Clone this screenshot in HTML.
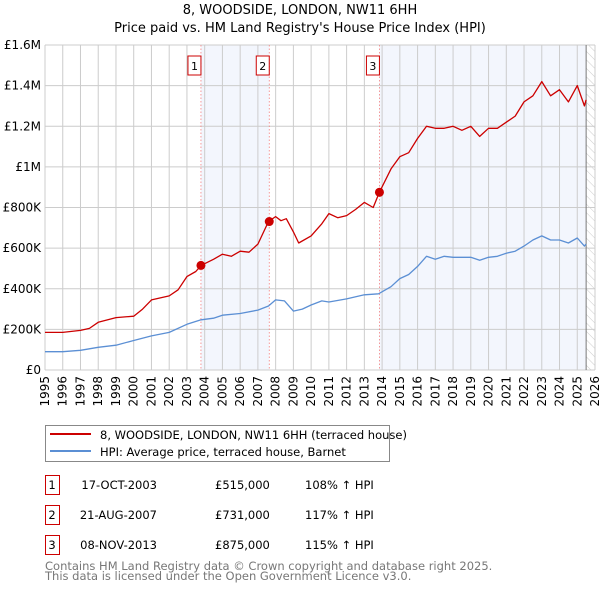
<!DOCTYPE html>
<html><head><meta charset="utf-8"><style>
body{margin:0;background:#fff;font-family:"DejaVu Sans","Liberation Sans",sans-serif}
svg text{font-family:"DejaVu Sans","Liberation Sans",sans-serif}
</style></head><body>
<svg id="c" width="600" height="590" xmlns="http://www.w3.org/2000/svg">
<defs><pattern id="hatch" width="6" height="6" patternUnits="userSpaceOnUse" patternTransform="rotate(-45)"><line x1="0" y1="0" x2="0" y2="6" stroke="#ccc" stroke-width="1"/></pattern></defs>
<text x="300" y="14" text-anchor="middle" font-size="13" fill="#000">8, WOODSIDE, LONDON, NW11 6HH</text>
<text x="300" y="32" text-anchor="middle" font-size="13" fill="#000">Price paid vs. HM Land Registry's House Price Index (HPI)</text>
<g id="plot"></g>
<g>
<rect x="45.5" y="425.5" width="344" height="36" fill="#fff" stroke="#888"/>
<line x1="50" y1="434" x2="91" y2="434" stroke="#cc0000" stroke-width="2"/>
<text x="100" y="439" font-size="11.5">8, WOODSIDE, LONDON, NW11 6HH (terraced house)</text>
<line x1="50" y1="451" x2="91" y2="451" stroke="#5b8fd4" stroke-width="2"/>
<text x="100" y="456" font-size="11.5">HPI: Average price, terraced house, Barnet</text>
</g>
<g id="table" font-size="11.5"></g>
<text x="45" y="570" font-size="11.5" fill="#777">Contains HM Land Registry data © Crown copyright and database right 2025.</text>
<text x="45" y="580" font-size="11.5" fill="#777">This data is licensed under the Open Government Licence v3.0.</text>
</svg>
<script>
const hpiYears=[1995,1996,1997,1998,1999,2000,2001,2002,2003,2003.8,2004.5,2005,2006,2007,2007.6,2008,2008.5,2009,2009.5,2010,2010.6,2011,2012,2013,2013.8,2014.5,2015,2015.5,2016,2016.5,2017,2017.5,2018,2019,2019.5,2020,2020.5,2021,2021.5,2022,2022.5,2023,2023.5,2024,2024.5,2025,2025.4,2025.5];
const hpiValues=[90e3,90e3,97e3,112e3,122e3,145e3,168e3,185e3,225e3,247e3,255e3,270e3,278e3,295e3,315e3,345e3,340e3,290e3,300e3,320e3,340e3,335e3,350e3,370e3,375e3,410e3,450e3,470e3,510e3,560e3,545e3,560e3,555e3,555e3,540e3,555e3,560e3,575e3,585e3,610e3,640e3,660e3,640e3,640e3,625e3,650e3,610e3,620e3];
const propYears=[1995,1996,1997,1997.5,1998,1999,2000,2000.5,2001,2002,2002.5,2003,2003.5,2003.8,2004.5,2005,2005.5,2006,2006.5,2007,2007.6,2008,2008.3,2008.6,2009,2009.3,2010,2010.6,2011,2011.5,2012,2012.5,2013,2013.5,2013.85,2014.5,2015,2015.5,2016,2016.5,2017,2017.5,2018,2018.5,2019,2019.5,2020,2020.5,2021,2021.5,2022,2022.5,2023,2023.5,2024,2024.5,2025,2025.4,2025.5];
const propValues=[185e3,185e3,195e3,205e3,235e3,258e3,265e3,300e3,345e3,365e3,395e3,460e3,485e3,515e3,545e3,570e3,560e3,585e3,580e3,620e3,731e3,755e3,735e3,745e3,680e3,625e3,660e3,720e3,770e3,750e3,760e3,790e3,825e3,800e3,875e3,990e3,1050e3,1070e3,1140e3,1200e3,1190e3,1190e3,1200e3,1180e3,1200e3,1150e3,1190e3,1190e3,1220e3,1250e3,1320e3,1350e3,1420e3,1350e3,1380e3,1320e3,1400e3,1300e3,1330e3];
const saleYears=[2003.79,2007.64,2013.85];
const saleValues=[515e3,731e3,875e3];
const saleLabels=["1","2","3"];
const saleDates=["17-OCT-2003","21-AUG-2007","08-NOV-2013"];
const salePrices=["£515,000","£731,000","£875,000"];
const saleHpi=["108% ↑ HPI","117% ↑ HPI","115% ↑ HPI"];
const yTicks=[0,200e3,400e3,600e3,800e3,1000e3,1200e3,1400e3,1600e3];
const yTickLabels=["£0","£200K","£400K","£600K","£800K","£1M","£1.2M","£1.4M","£1.6M"];
const xTicks=[1995,1996,1997,1998,1999,2000,2001,2002,2003,2004,2005,2006,2007,2008,2009,2010,2011,2012,2013,2014,2015,2016,2017,2018,2019,2020,2021,2022,2023,2024,2025,2026];
const dataEnd=2025.5;

const NS="http://www.w3.org/2000/svg";
const L=45,R=595,T=45,B=370;
const x=v=>L+(v-1995)/31*(R-L);
const y=v=>B-v/1.6e6*(B-T);
const plot=document.getElementById('plot');
function mk(tag,attrs,parent){const e=document.createElementNS(NS,tag);for(const k in attrs)e.setAttribute(k,attrs[k]);(parent||plot).appendChild(e);return e;}
let s=mk('rect',{x:x(saleYears[0]),y:T,width:x(saleYears[1])-x(saleYears[0]),height:B-T,fill:'#f3f6fd'});


s=mk('rect',{x:x(saleYears[2]),y:T,width:x(dataEnd)-x(saleYears[2]),height:B-T,fill:'#f3f6fd'});


s=mk('rect',{x:x(dataEnd),y:T,width:R-x(dataEnd),height:B-T,fill:'url(#hatch)'});


xTicks.forEach(t=>{const g=mk('line',{x1:x(t),x2:x(t),y1:T,y2:B,stroke:'#ccc','stroke-width':1});


const lb=mk('text',{x:0,y:0,'font-size':12,'text-anchor':'end',transform:`translate(${x(t)+4},${B+6}) rotate(-90)`});lb.textContent=t;

});
yTicks.forEach((t,i)=>{const g=mk('line',{x1:L,x2:R,y1:y(t),y2:y(t),stroke:'#ccc','stroke-width':1});


const lb=mk('text',{x:L-4,y:y(t)+4,'font-size':12,'text-anchor':'end'});lb.textContent=yTickLabels[i];

});
let el=mk('line',{x1:x(dataEnd),x2:x(dataEnd),y1:T,y2:B,stroke:'#777','stroke-width':1});


saleYears.forEach((sy,i)=>{const l=mk('line',{x1:x(sy),x2:x(sy),y1:T,y2:B,stroke:'#f38080','stroke-dasharray':'1.5,2','stroke-width':0.8});


const b=mk('rect',{x:x(sy)-13,y:56,width:13,height:19,fill:'#fff',stroke:'#cc0000'});


const tx=mk('text',{x:x(sy)-6.5,y:70,'font-size':11,'text-anchor':'middle'});tx.textContent=saleLabels[i];

});
function line(xs,vs,col,name){const p=mk('path',{d:xs.map((a,i)=>(i?'L':'M')+x(a).toFixed(1)+','+y(vs[i]).toFixed(1)).join(''),fill:'none',stroke:col,'stroke-width':1.3,'stroke-linejoin':'round'});

}
line(hpiYears,hpiValues,'#5b8fd4','hpi-line');
line(propYears,propValues,'#cc0000','property-line');
saleYears.forEach((sy,i)=>{const c=mk('circle',{cx:x(sy),cy:y(saleValues[i]),r:4.5,fill:'#cc0000'});

});
const tb=document.getElementById('table');
saleYears.forEach((sy,i)=>{const yy=475+i*30;
const b=mk('rect',{x:45.5,y:yy+0.5,width:14,height:19,fill:'#fff',stroke:'#cc0000'},tb);


const vals=[[52,saleLabels[i],'middle'],[157,saleDates[i],'end'],[215,salePrices[i],'start'],[305,saleHpi[i],'start']];
vals.forEach(v=>{const t=mk('text',{x:v[0],y:yy+14,'text-anchor':v[2]},tb);t.textContent=v[1];

});});
</script>
</body></html>
